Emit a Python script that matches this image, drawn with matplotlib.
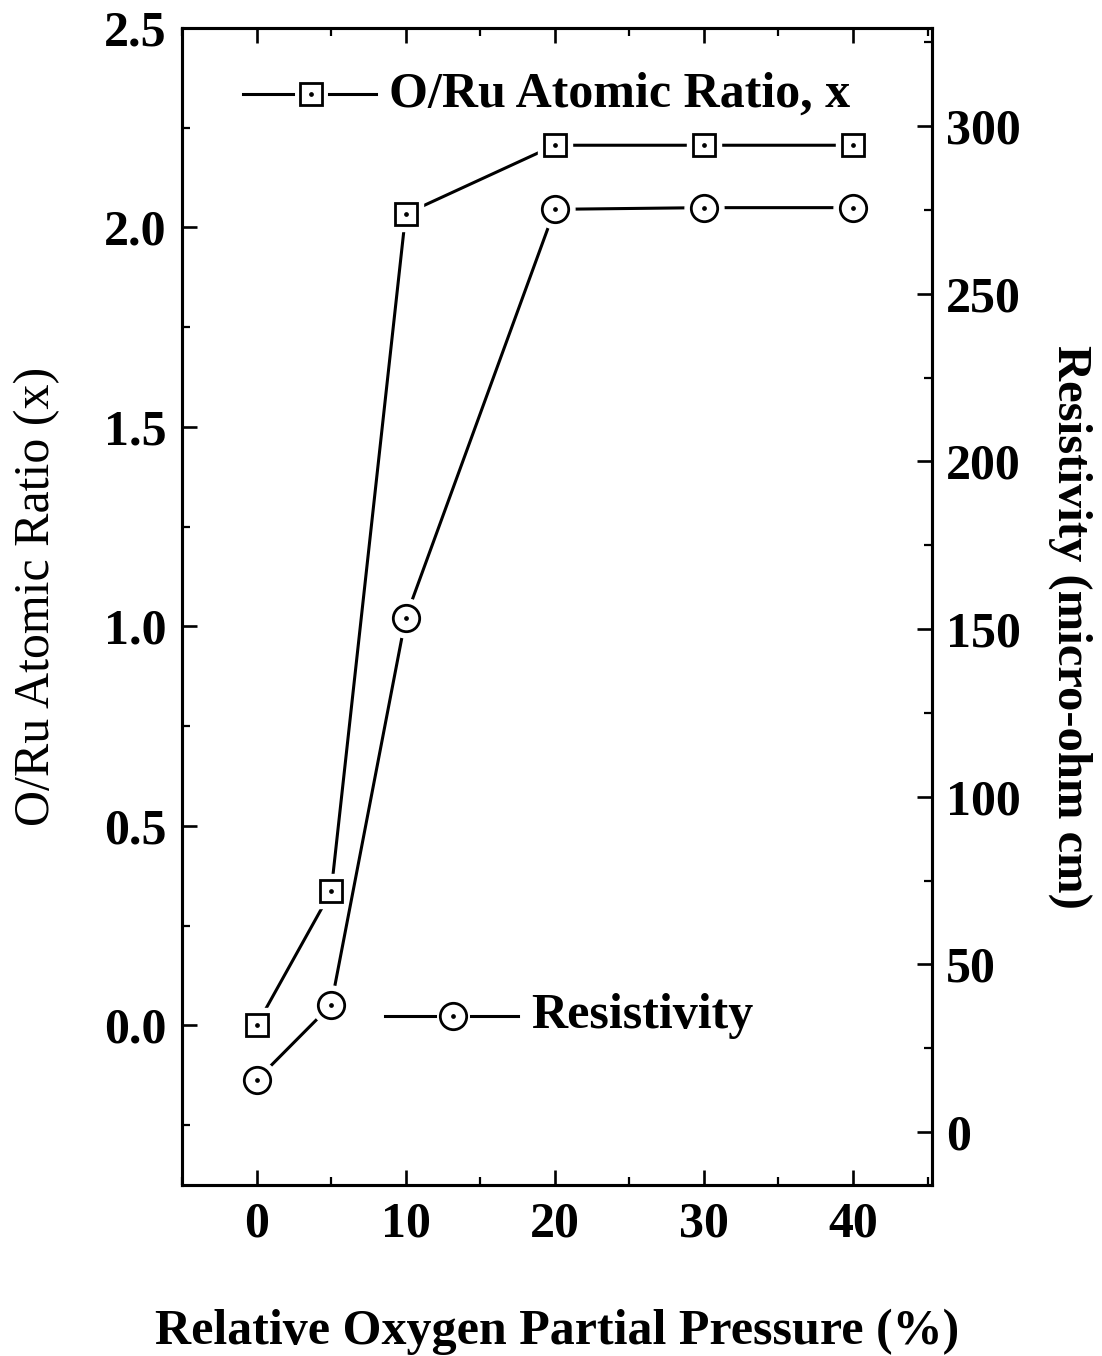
import numpy as np
import matplotlib.pyplot as plt
from matplotlib.ticker import MultipleLocator

# data
pressure = [0, 5, 10, 20, 30, 40]
ratio = [0.0, 0.336, 2.034, 2.206, 2.206, 2.206]
resistivity = [15.5, 37.9, 153.4, 275.2, 275.7, 275.7]

plt.rcParams['font.family'] = ['Liberation Serif', 'DejaVu Serif']

fig = plt.figure(figsize=(11.02, 13.56), dpi=100)
ax = fig.add_axes([0.1652, 0.1261, 0.6806, 0.8533])
ax2 = ax.twinx()

lw = 2.2
mew = 2.0
def draw(axis, x, y, marker, ms):
    # line, white halo so the line stops short of the marker, then marker + dot
    axis.plot(x, y, color='black', lw=lw, zorder=1)
    axis.plot(x, y, ls='none', marker=marker, ms=ms + 9, mfc='white', mec='white', zorder=2)
    axis.plot(x, y, ls='none', marker=marker, ms=ms, mfc='white', mec='black', mew=mew, zorder=3)
    axis.plot(x, y, ls='none', marker='o', ms=2.4, mfc='black', mec='black', zorder=4)

draw(ax, pressure, ratio, 's', 16)
draw(ax2, pressure, resistivity, 'o', 19)

ax.set_xlim(-5, 45.3)
ax.set_ylim(-0.4, 2.5)
ax2.set_ylim(-15.8, 329.3)

ax.xaxis.set_major_locator(MultipleLocator(10))
ax.xaxis.set_minor_locator(MultipleLocator(5))
ax.yaxis.set_minor_locator(MultipleLocator(0.25))
ax2.yaxis.set_minor_locator(MultipleLocator(25))
ax.set_yticks([0.0, 0.5, 1.0, 1.5, 2.0, 2.5])
ax.set_yticklabels(['0.0', '0.5', '1.0', '1.5', '2.0', '2.5'])
ax2.set_yticks([0, 50, 100, 150, 200, 250, 300])

ax.tick_params(axis='x', which='both', direction='in', top=True, labelsize=36, pad=12)
ax.tick_params(axis='y', which='both', direction='in', right=False, labelsize=36, pad=11)
ax.tick_params(which='major', length=11, width=1.9)
ax.tick_params(which='minor', length=6, width=1.6)
ax2.tick_params(axis='y', which='both', direction='in', labelsize=36, pad=10)
ax2.tick_params(which='major', length=11, width=1.9)
ax2.tick_params(which='minor', length=6, width=1.6)
for lab in ax.get_xticklabels() + ax.get_yticklabels() + ax2.get_yticklabels():
    lab.set_fontweight('bold')

for s in ax.spines.values():
    s.set_linewidth(2.2)
for s in ax2.spines.values():
    s.set_linewidth(2.2)

ax.set_xlabel('Relative Oxygen Partial Pressure (%)', fontsize=36, fontweight='bold', labelpad=44)
ax.set_ylabel('O/Ru Atomic Ratio (x)', fontsize=36)
ax.yaxis.set_label_coords(-0.162, 0.509)
ax2.set_ylabel('Resistivity (micro-ohm cm)', fontsize=35, fontweight='bold', rotation=-90, va='center')
ax2.yaxis.set_label_coords(1.184, 0.482)

# hand-drawn key entries
def key(y, marker, ms, x0, text):
    t = ax.transAxes
    ax.plot([x0, x0 + 0.067], [y, y], color='black', lw=lw, transform=t, clip_on=False)
    ax.plot([x0 + 0.115, x0 + 0.177], [y, y], color='black', lw=lw, transform=t, clip_on=False)
    ax.plot([x0 + 0.091], [y], marker=marker, ms=ms, mfc='white', mec='black', mew=mew,
            transform=t, clip_on=False)
    ax.plot([x0 + 0.091], [y], marker='o', ms=2.4, color='black', transform=t, clip_on=False)
    ax.text(x0 + 0.195, y, text, transform=t, fontsize=36, fontweight='bold', va='center', ha='left')

key(0.9426, 's', 16, 0.0813, 'O/Ru Atomic Ratio, x')
key(0.1461, 'o', 19, 0.2707, 'Resistivity')

fig.savefig('out.png', dpi=100)
